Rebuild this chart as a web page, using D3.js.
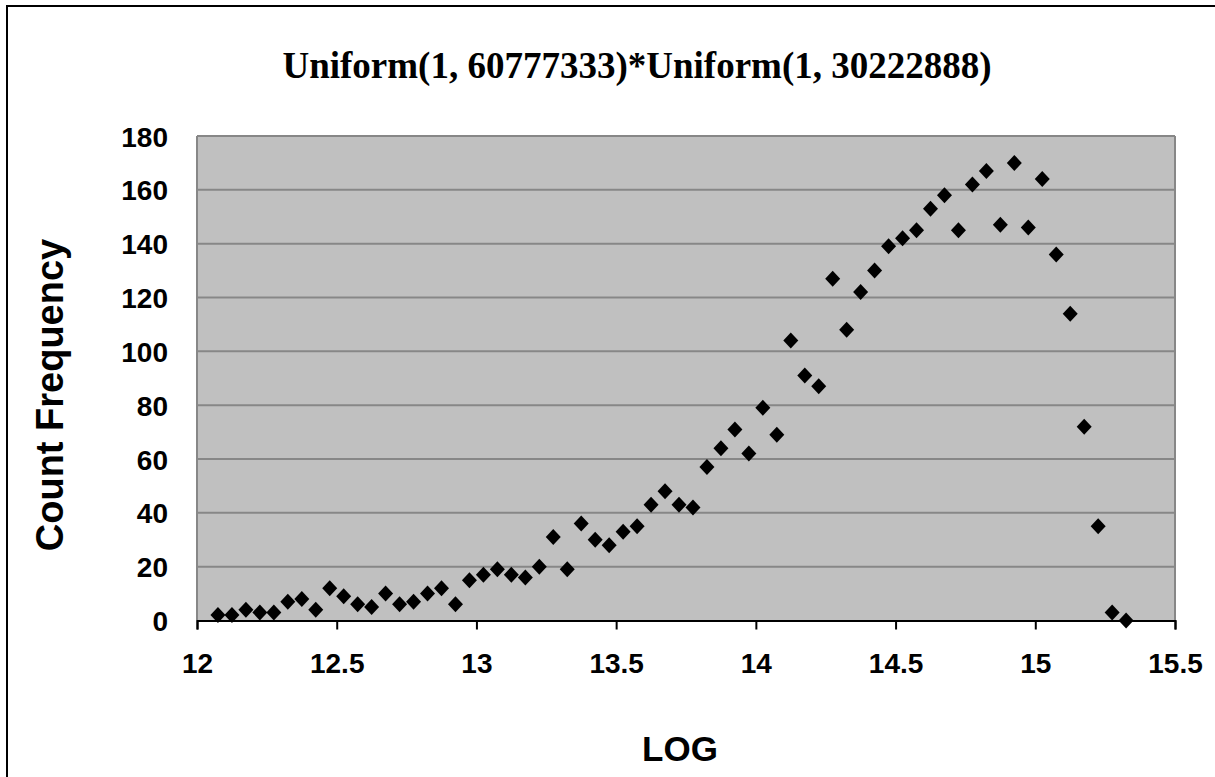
<!DOCTYPE html>
<html>
<head>
<meta charset="utf-8">
<script src="https://cdn.jsdelivr.net/npm/d3@7"></script>
<style>
  html, body { margin: 0; padding: 0; background: #fff; }
  svg { display: block; }
</style>
</head>
<body>
<svg id="chart" width="1215" height="777"></svg>
<script>
// ---- data ----
const titleText = "Uniform(1, 60777333)*Uniform(1, 30222888)";
const xLabel = "LOG";
const yLabel = "Count Frequency";
const xTicks = [12, 12.5, 13, 13.5, 14, 14.5, 15, 15.5];
const yTicks = [0, 20, 40, 60, 80, 100, 120, 140, 160, 180];
const logValues = [
  12.075, 12.125, 12.175, 12.225, 12.275, 12.325, 12.375, 12.425, 12.475, 12.525,
  12.575, 12.625, 12.675, 12.725, 12.775, 12.825, 12.875, 12.925, 12.975, 13.025,
  13.075, 13.125, 13.175, 13.225, 13.275, 13.325, 13.375, 13.425, 13.475, 13.525,
  13.575, 13.625, 13.675, 13.725, 13.775, 13.825, 13.875, 13.925, 13.975, 14.025,
  14.075, 14.125, 14.175, 14.225, 14.275, 14.325, 14.375, 14.425, 14.475, 14.525,
  14.575, 14.625, 14.675, 14.725, 14.775, 14.825, 14.875, 14.925, 14.975, 15.025,
  15.075, 15.125, 15.175, 15.225, 15.275, 15.325
];
const counts = [
  2, 2, 4, 3, 3, 7, 8, 4, 12, 9,
  6, 5, 10, 6, 7, 10, 12, 6, 15, 17,
  19, 17, 16, 20, 31, 19, 36, 30, 28, 33,
  35, 43, 48, 43, 42, 57, 64, 71, 62, 79,
  69, 104, 91, 87, 127, 108, 122, 130, 139, 142,
  145, 153, 158, 145, 162, 167, 147, 170, 146, 164,
  136, 114, 72, 35, 3, 0
];

// ---- layout ----
const svg = d3.select("#chart");
const plot = { left: 197, right: 1175, top: 136, bottom: 620.5 };

const x = d3.scaleLinear().domain([12, 15.5]).range([plot.left, plot.right]);
const y = d3.scaleLinear().domain([0, 180]).range([plot.bottom, plot.top]);

// outer frame
svg.append("rect")
  .attr("x", 7).attr("y", 6)
  .attr("width", 1215).attr("height", 800)
  .attr("fill", "#fff").attr("stroke", "#000").attr("stroke-width", 2);

// plot background
svg.append("rect")
  .attr("x", plot.left).attr("y", plot.top)
  .attr("width", plot.right - plot.left).attr("height", plot.bottom - plot.top)
  .attr("fill", "#c0c0c0");

// gridlines
svg.append("g")
  .selectAll("line")
  .data(yTicks.filter(d => d > 0))
  .join("line")
  .attr("x1", plot.left).attr("x2", plot.right)
  .attr("y1", d => y(d)).attr("y2", d => y(d))
  .attr("stroke", "#878787").attr("stroke-width", 2);

// plot border (left & right gray)
svg.append("line")
  .attr("x1", plot.left).attr("x2", plot.left)
  .attr("y1", plot.top).attr("y2", plot.bottom)
  .attr("stroke", "#878787").attr("stroke-width", 2);
svg.append("line")
  .attr("x1", plot.right).attr("x2", plot.right)
  .attr("y1", plot.top).attr("y2", plot.bottom)
  .attr("stroke", "#878787").attr("stroke-width", 2);

// x axis
const xAxis = d3.axisBottom(x).tickValues(xTicks).tickSize(9).tickFormat(d3.format("~g"));
const gx = svg.append("g").attr("transform", `translate(0,${plot.bottom})`).call(xAxis);
gx.select(".domain").attr("stroke", "#000").attr("stroke-width", 2);
gx.selectAll(".tick line").attr("stroke", "#000").attr("stroke-width", 2);
gx.selectAll(".tick text")
  .attr("y", 52).attr("dy", 0)
  .attr("fill", "#000")
  .style("font-family", "'Liberation Sans', Arial, sans-serif")
  .style("font-weight", "bold")
  .style("font-size", "28px");

// y axis
const yAxis = d3.axisLeft(y).tickValues(yTicks).tickSize(0).tickPadding(29);
const gy = svg.append("g").attr("transform", `translate(${plot.left},0)`).call(yAxis);
gy.select(".domain").remove();
gy.selectAll(".tick text")
  .attr("dy", "0.36em")
  .attr("fill", "#000")
  .style("font-family", "'Liberation Sans', Arial, sans-serif")
  .style("font-weight", "bold")
  .style("font-size", "28px");

// markers
const diamond = "M0,-8L7.5,0L0,8L-7.5,0Z";
svg.append("g")
  .selectAll("path")
  .data(logValues.map((v, i) => ({ lx: v, c: counts[i] })))
  .join("path")
  .attr("d", diamond)
  .attr("transform", d => `translate(${x(d.lx)},${y(d.c)})`)
  .attr("fill", "#000");

// title
svg.append("text")
  .attr("x", 637).attr("y", 78)
  .attr("text-anchor", "middle")
  .style("font-family", "'Liberation Serif', 'Times New Roman', serif")
  .style("font-weight", "bold")
  .style("font-size", "37px")
  .attr("fill", "#000")
  .text(titleText);

// x label
svg.append("text")
  .attr("x", 680).attr("y", 761)
  .attr("text-anchor", "middle")
  .style("font-family", "'Liberation Sans', Arial, sans-serif")
  .style("font-weight", "bold")
  .style("font-size", "35px")
  .attr("fill", "#000")
  .text(xLabel);

// y label
svg.append("text")
  .attr("transform", "translate(63,395) rotate(-90)")
  .attr("text-anchor", "middle")
  .style("font-family", "'Liberation Sans', Arial, sans-serif")
  .style("font-weight", "bold")
  .style("font-size", "38px")
  .attr("fill", "#000")
  .text(yLabel);
</script>
</body>
</html>
